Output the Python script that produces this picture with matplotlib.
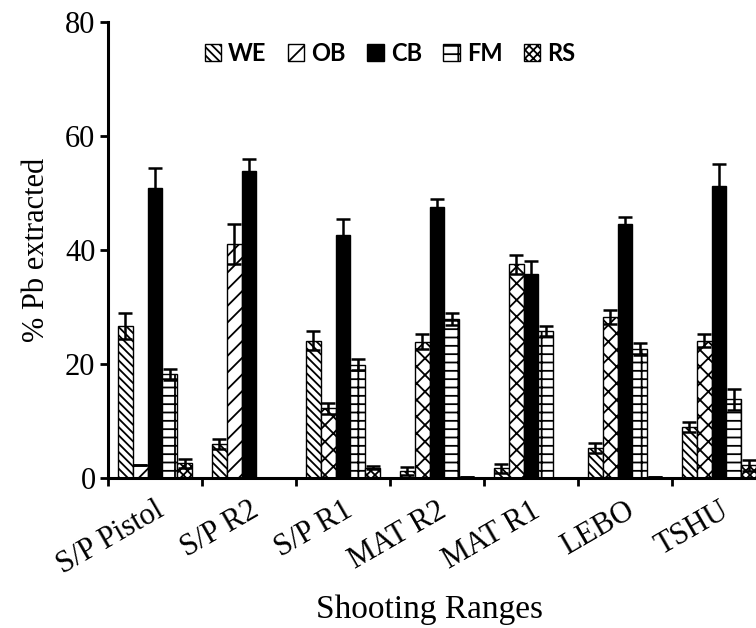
import numpy as np
import matplotlib
matplotlib.use("Agg")
import matplotlib.pyplot as plt

ranges = ["S/P Pistol", "S/P R2", "S/P R1", "MAT R2", "MAT R1", "LEBO", "TSHU"]
fractions = ["WE", "OB", "CB", "FM", "RS"]

we = [26.7, 6.0, 24.1, 1.3, 1.7, 5.2, 9.0]
we_err = [2.3, 0.9, 1.7, 0.7, 0.8, 0.9, 0.9]
ob = [2.2, 41.0, 12.2, 23.9, 37.5, 28.3, 24.1]
ob_err = [0.0, 3.5, 1.0, 1.3, 1.7, 1.2, 1.1]
cb = [50.9, 53.9, 42.6, 47.5, 35.8, 44.6, 51.2]
cb_err = [3.5, 2.0, 2.8, 1.5, 2.3, 1.2, 3.9]
fm = [18.2, 0.0, 19.9, 27.9, 25.8, 22.6, 13.8]
fm_err = [1.0, 0.0, 0.9, 1.1, 0.8, 1.0, 1.9]
rs = [2.6, 0.0, 1.8, 0.2, 0.0, 0.1, 2.2]
rs_err = [0.8, 0.0, 0.3, 0.0, 0.0, 0.0, 0.9]

plt.rcParams["hatch.linewidth"] = 1.3
serif = "Liberation Serif"

fig = plt.figure(figsize=(7.56, 6.28), dpi=100)
ax = fig.add_axes([108 / 756, 1 - 478 / 628, 658 / 756, 456 / 628])

x = np.arange(len(ranges))
w = 0.157
series = [we, ob, cb, fm, rs]
errs = [we_err, ob_err, cb_err, fm_err, rs_err]
faces = ["white", "white", "black", "white", "white"]
hatches = ["\\\\\\\\", "//", None, "--|", "xxxx"]
ekw = dict(ecolor="black", capsize=5, elinewidth=1.8, capthick=1.8)

for i in range(5):
    bars = ax.bar(x + (i - 2) * w, series[i], w, yerr=errs[i],
                  color=faces[i], edgecolor="black", linewidth=1,
                  hatch=hatches[i], label=fractions[i], error_kw=ekw)
    if fractions[i] == "OB":
        for j, b in enumerate(bars):
            if j >= 2:
                b.set_hatch("xx")

ax.set_ylim(0, 80)
ax.set_xlim(-0.5, len(ranges) - 0.5)
ax.set_yticks([0, 20, 40, 60, 80])
ax.set_xticks(x)
ax.set_xticks(np.arange(len(ranges) + 1) - 0.5, minor=True)
ax.set_xticklabels(ranges, rotation=30, ha="right", rotation_mode="anchor",
                   fontfamily=serif, fontsize=22)
for lab in ax.get_yticklabels():
    lab.set_fontfamily(serif)
    lab.set_fontsize(22)

ax.tick_params(axis="x", which="major", length=0, pad=13)
ax.tick_params(axis="x", which="minor", length=6, width=2, direction="out")
ax.tick_params(axis="y", length=6, width=2, direction="out", pad=3)

for s in ["top", "right"]:
    ax.spines[s].set_visible(False)
for s in ["left", "bottom"]:
    ax.spines[s].set_linewidth(2.2)

ax.set_ylabel("% Pb extracted", fontfamily=serif, fontsize=22, labelpad=10)
ax.set_xlabel("Shooting Ranges", fontfamily=serif, fontsize=24)
ax.xaxis.set_label_coords((430 - 108) / 658, -0.255)

ax.legend(loc="center", bbox_to_anchor=((390 - 108) / 658, (478 - 53) / 456), ncol=5,
          frameon=False, handlelength=0.7, handleheight=0.7, handletextpad=0.3,
          columnspacing=0.9, prop=dict(family="Lato", weight="bold", size=17))

fig.savefig("out.png", dpi=100)
